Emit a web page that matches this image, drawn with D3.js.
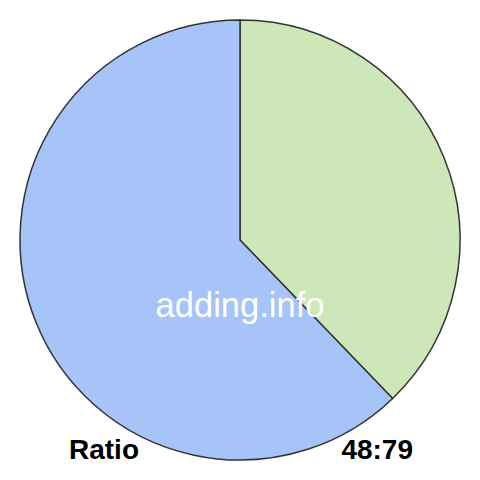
<!DOCTYPE html>
<html>
<head>
<meta charset="utf-8">
<script src="https://cdn.jsdelivr.net/npm/d3@7"></script>
<style>
  body { margin: 0; background: #fff; }
  text { font-family: "Liberation Sans", Arial, Helvetica, sans-serif; }
</style>
</head>
<body>
<script>
// Data
var labels = ["48", "79"];
var values = [48, 79];
var colors = ["#cde7b9", "#a6c4f8"];
var caption = "Ratio";
var ratioText = "48:79";
var watermark = "adding.info";

// Sizes
var width = 480,
    height = 480,
    cx = 240,
    cy = 240,
    radius = 220;

var svg = d3.select("body").append("svg")
    .attr("width", width)
    .attr("height", height);

var g = svg.append("g")
    .attr("transform", "translate(" + cx + "," + cy + ")");

// Pie layout, clockwise from top, keep order
var pie = d3.pie()
    .sort(null)
    .value(function (d) { return d; });

var arc = d3.arc()
    .innerRadius(0)
    .outerRadius(radius);

g.selectAll("path")
    .data(pie(values))
    .enter().append("path")
    .attr("d", arc)
    .attr("fill", function (d, i) { return colors[i]; })
    .attr("stroke", "#333")
    .attr("stroke-width", 1.5)
    .attr("stroke-linejoin", "round");

// Watermark
svg.append("text")
    .attr("x", 240)
    .attr("y", 317)
    .attr("text-anchor", "middle")
    .attr("fill", "#fff")
    .style("font-size", "34.5px")
    .text(watermark);

// Bottom labels
svg.append("text")
    .attr("x", 69)
    .attr("y", 459)
    .attr("fill", "#000")
    .style("font-size", "28px")
    .style("font-weight", "bold")
    .text(caption);

svg.append("text")
    .attr("x", 413)
    .attr("y", 459)
    .attr("text-anchor", "end")
    .attr("fill", "#000")
    .style("font-size", "28px")
    .style("font-weight", "bold")
    .text(ratioText);
</script>
</body>
</html>
